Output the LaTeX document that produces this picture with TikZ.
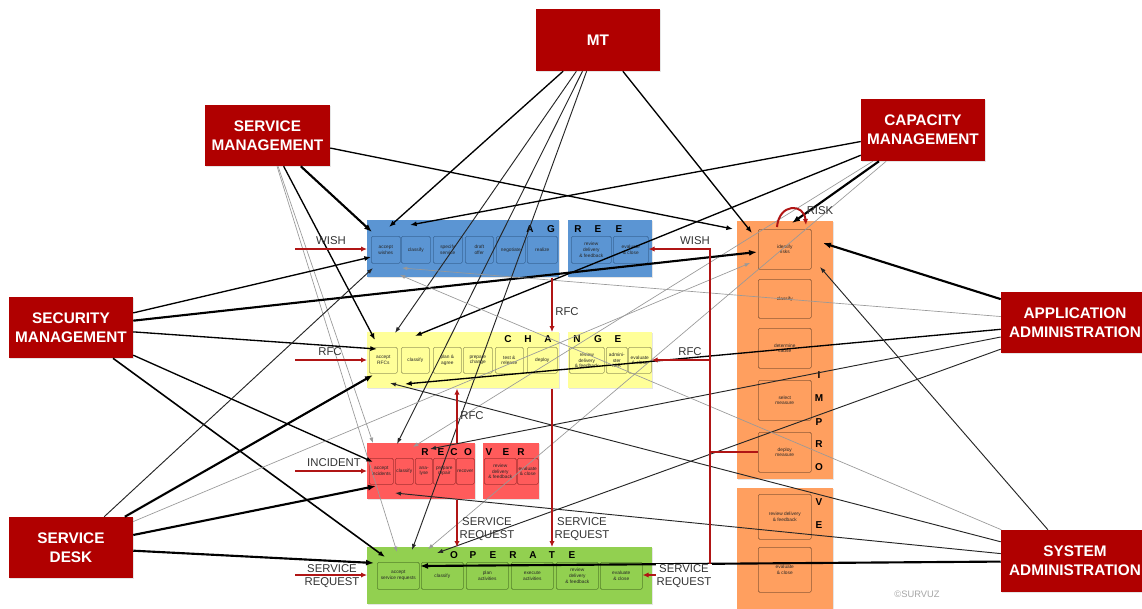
\documentclass[tikz,border=0pt]{standalone}
\usepackage{fontspec}
\setmainfont{Liberation Sans}
\usetikzlibrary{arrows.meta,shadows}
\definecolor{rolered}{HTML}{B00000}
\definecolor{arrred}{HTML}{B01515}
\definecolor{agreeC}{HTML}{5B95D3}
\definecolor{agreeB}{HTML}{3A679A}
\definecolor{changeC}{HTML}{FFFF99}
\definecolor{changeB}{HTML}{9C9C5C}
\definecolor{recoverC}{HTML}{FF5B5B}
\definecolor{recoverB}{HTML}{A83232}
\definecolor{operateC}{HTML}{92D050}
\definecolor{operateB}{HTML}{55812A}
\definecolor{improveC}{HTML}{FF9F5F}
\definecolor{improveB}{HTML}{8F5A36}
\definecolor{lbl}{HTML}{333333}
\newcommand\mkbox[6]{\node[#1,anchor=north west,minimum width=#4*0.75pt,minimum height=#5*0.75pt] (#6) at (#2,#3) {};}
\newcommand\mksub[7]{\node[#1,anchor=north west,minimum width=#4*0.75pt,minimum height=#5*0.75pt] (#6) at (#2,#3) {#7};}
\begin{document}
\begin{tikzpicture}[x=0.75pt,y=-0.75pt,
  role/.style={fill=rolered,text=white,font=\fontsize{11.5}{14.5}\selectfont\bfseries,align=center,inner sep=0pt,drop shadow={opacity=0.2,shadow xshift=0.8pt,shadow yshift=-0.8pt}},
  pbox/.style={inner sep=0pt,drop shadow={opacity=0.2,shadow xshift=0.8pt,shadow yshift=-0.8pt}},
  sub/.style={line width=0.45pt,rounded corners=1pt,inner sep=0pt,align=center,font=\fontsize{3.6}{4.3}\selectfont,text=black!85},
  sA/.style={sub,fill=agreeC,draw=agreeB},
  sC/.style={sub,fill=changeC,draw=changeB},
  sR/.style={sub,fill=recoverC,draw=recoverB},
  sO/.style={sub,fill=operateC,draw=operateB},
  sI/.style={sub,fill=improveC,draw=improveB},
  ttl/.style={font=\fontsize{7.5}{8}\selectfont\bfseries,inner sep=0pt},
  lab/.style={font=\fontsize{8.5}{10}\selectfont,text=lbl,align=center,inner sep=0.5pt},
  rline/.style={draw=arrred,line width=1.5pt},
  rarr/.style={rline,-{Latex[length=4.5pt,width=4pt]}},
  cthick/.style={draw=black,line width=1.6pt,-{Latex[length=6pt,width=4.5pt]}},
  cmed/.style={draw=black,line width=1pt,-{Latex[length=5pt,width=3.8pt]}},
  cthin/.style={draw=black!85,line width=0.7pt,-{Latex[length=4.5pt,width=3.2pt]}},
  cgrey/.style={draw=black!40,line width=0.5pt,-{Latex[length=4pt,width=3pt]}}]
\clip (0,0) rectangle (1142,608);
\fill[white] (0,0) rectangle (1142,608);

% ---------- process boxes ----------
\mkbox{pbox,fill=agreeC}{367}{220}{192}{57}{agL}
\mkbox{pbox,fill=agreeC}{568}{220}{84}{57}{agR}
\mkbox{pbox,fill=changeC}{367}{332}{192}{56}{chL}
\mkbox{pbox,fill=changeC}{568}{332}{84}{56}{chR}
\mkbox{pbox,fill=recoverC}{367}{443}{108}{56}{rcL}
\mkbox{pbox,fill=recoverC}{483}{443}{56}{56}{rcR}
\mkbox{pbox,fill=operateC}{367}{547}{285}{57}{op}
\mkbox{pbox,fill=improveC}{737}{221}{96}{258}{imA}
\mkbox{pbox,fill=improveC}{737}{488}{96}{125}{imB}

% AGREE
\mksub{sA}{371}{236}{29}{27}{ag1}{accept\\wishes}
\mksub{sA}{401}{236}{29}{27}{ag2}{classify}
\mksub{sA}{433}{236}{29}{27}{ag3}{specify\\service}
\mksub{sA}{465}{236}{28}{27}{ag4}{draft\\offer}
\mksub{sA}{496}{236}{29}{27}{ag5}{negotiate}
\mksub{sA}{527}{236}{30}{27}{ag6}{realize}
\mksub{sA}{571}{236}{40}{27}{ag7}{review\\delivery\\\& feedback}
\mksub{sA}{613}{236}{35}{27}{agEval}{evaluate\\\& close}
% CHANGE
\mksub{sC}{369}{347}{28}{26}{ch1}{accept\\RFCs}
\mksub{sC}{401}{347}{28}{26}{ch2}{classify}
\mksub{sC}{433}{347}{28}{26}{ch3}{plan \&\\agree}
\mksub{sC}{463}{347}{29}{26}{ch4}{prepare\\change}
\mksub{sC}{495}{347}{28}{26}{ch5}{test \&\\release}
\mksub{sC}{527}{347}{30}{26}{ch6}{deploy}
\mksub{sC}{569}{347}{35}{26}{ch7}{review\\delivery\\\& feedback}
\mksub{sC}{606}{347}{21}{26}{ch8}{admini-\\ster\\MIR}
\mksub{sC}{628}{347}{23}{26}{chEval}{evaluate\\\& close}
% RECOVER
\mksub{sR}{369}{458}{24}{26}{rc1}{accept\\incidents}
\mksub{sR}{395}{458}{18}{26}{rc2}{classify}
\mksub{sR}{415}{458}{17}{26}{rc3}{ana-\\lyse}
\mksub{sR}{433}{458}{22}{26}{rc4}{prepare\\repair}
\mksub{sR}{456}{458}{18}{26}{rc5}{recover}
\mksub{sR}{484}{458}{32}{26}{rc6}{review\\delivery\\\& feedback}
\mksub{sR}{517}{458}{21}{26}{rc7}{evaluate\\\& close}
% OPERATE
\mksub{sO}{377}{562}{42}{27}{op1}{accept\\service requests}
\mksub{sO}{421}{562}{42}{27}{op2}{classify}
\mksub{sO}{466}{562}{42}{27}{op3}{plan\\activities}
\mksub{sO}{511}{562}{42}{27}{op4}{execute\\activities}
\mksub{sO}{556}{562}{42}{27}{op5}{review\\delivery\\\& feedback}
\mksub{sO}{600}{562}{42}{27}{opEval}{evaluate\\\& close}
% IMPROVE
\mksub{sI}{758}{229}{53}{40}{im1}{identify\\risks}
\mksub{sI}{758}{279}{53}{39}{im2}{classify}
\mksub{sI}{758}{328}{53}{40}{im3}{determine\\cause}
\mksub{sI}{758}{380}{53}{40}{im4}{select\\measure}
\mksub{sI}{758}{432}{53}{40}{imDep}{deploy\\measure}
\mksub{sI}{758}{494}{53}{45}{im6}{review delivery\\\& feedback}
\mksub{sI}{758}{547}{53}{45}{im7}{evaluate\\\& close}

% titles
\foreach \ch/\xx [count=\i] in {A/530,G/551,R/578,E/598,E/619} \node[ttl] (ttA\i) at (\xx,229) {\ch};
\foreach \ch/\xx [count=\i] in {C/508,H/528,A/548,N/577,G/598,E/618} \node[ttl] (ttC\i) at (\xx,339) {\ch};
\foreach \ch/\xx [count=\i] in {R/425,E/441,C/454,O/468,V/489,E/506,R/521} \node[ttl] (ttR\i) at (\xx,452) {\ch};
\foreach \ch/\xx [count=\i] in {O/454,P/473,E/493,R/513,A/533,T/552,E/572} \node[ttl] (ttO\i) at (\xx,555) {\ch};
\foreach \ch/\yy [count=\i] in {I/375,M/398,P/422,R/444,O/467,V/502,E/525} \node[ttl] (ttI\i) at (819,\yy) {\ch};

% ---------- role boxes ----------
\node[role,minimum width=124*0.75pt,minimum height=62*0.75pt] (mt) at (598,40) {MT};
\node[role,minimum width=125*0.75pt,minimum height=61*0.75pt] (sm) at (267.5,135.5) {SERVICE\\MANAGEMENT};
\node[role,minimum width=124*0.75pt,minimum height=62*0.75pt] (cm) at (923,130) {CAPACITY\\MANAGEMENT};
\node[role,minimum width=124*0.75pt,minimum height=61*0.75pt] (secm) at (71,327.5) {SECURITY\\MANAGEMENT};
\node[role,minimum width=124*0.75pt,minimum height=61*0.75pt] (sd) at (71,547.5) {SERVICE\\DESK};
\node[role,minimum width=148*0.75pt,minimum height=61*0.75pt] (aa) at (1075,322.5) {APPLICATION\\ADMINISTRATION};
\node[role,minimum width=148*0.75pt,minimum height=62*0.75pt] (sa) at (1075,561) {SYSTEM\\ADMINISTRATION};

% ---------- target points ----------
\coordinate (tA1) at (389,227); \coordinate (tA2) at (372,232); \coordinate (tA3) at (410,225);
\coordinate (tA4) at (371,257); \coordinate (tA5) at (373,268); \coordinate (tA6) at (402,268);
\coordinate (tA7) at (400,275);
\coordinate (tC1) at (395,333); \coordinate (tC2) at (375,340); \coordinate (tC3) at (415,336);
\coordinate (tC4) at (377,349); \coordinate (tC5) at (373,375); \coordinate (tC6) at (405,384);
\coordinate (tC7) at (390,383);
\coordinate (tR1) at (397,444); \coordinate (tR2) at (373,443); \coordinate (tR3) at (413,447);
\coordinate (tR4) at (373,462); \coordinate (tR5) at (376,486); \coordinate (tR6) at (430,449);
\coordinate (tR7) at (395,493);
\coordinate (tO1) at (412,550); \coordinate (tO2) at (397,552); \coordinate (tO3) at (428,549);
\coordinate (tO4) at (385,557); \coordinate (tO5) at (374,563); \coordinate (tO6) at (437,553);
\coordinate (tO7) at (420,566);
\coordinate (tI1) at (752,233); \coordinate (tI2) at (733,229); \coordinate (tI3) at (792,223);
\coordinate (tI4) at (757,252); \coordinate (tI5) at (750,263); \coordinate (tI6) at (823,243);
\coordinate (tI7) at (820,267);

% ---------- black connectors ----------
\draw[cmed] (mt) -- (tA1);
\draw[cthin] (mt) -- (tC1);
\draw[cthin] (mt) -- (tR1);
\draw[cthin] (mt) -- (tO1);
\draw[cmed] (mt) -- (tI1);

\draw[cthick] (sm) -- (tA2);
\draw[cmed] (sm) -- (tC2);
\draw[cgrey] (sm) -- (tR2);
\draw[cgrey] (sm) -- (tO2);
\draw[cmed] (sm) -- (tI2);

\draw[cmed] (cm) -- (tA3);
\draw[cmed] (cm) -- (tC3);
\draw[cgrey] (cm) -- (tR3);
\draw[cgrey] (cm) -- (tO3);
\draw[cthick] (cm) -- (tI3);

\draw[cmed] (secm) -- (tA4);
\draw[cmed] (secm) -- (tC4);
\draw[cmed] (secm) -- (tR4);
\draw[cmed,line width=1.2pt] (secm) -- (tO4);
\draw[cthick] (secm) -- (tI4);

\draw[cthin] (sd) -- (tA5);
\draw[cthick] (sd) -- (tC5);
\draw[cthick] (sd) -- (tR5);
\draw[cthick] (sd) -- (tO5);
\draw[cgrey] (sd) -- (tI5);

\draw[cgrey] (aa) -- (tA6);
\draw[cmed] (aa) -- (tC6);
\draw[cthin] (aa) -- (tR6);
\draw[cthin] (aa) -- (tO6);
\draw[cthick] (aa) -- (tI6);

\draw[cgrey] (sa) -- (tA7);
\draw[cthin] (sa) -- (tC7);
\draw[cthin] (sa) -- (tR7);
\draw[cthick] (sa) -- (tO7);
\draw[cthin] (sa) -- (tI7);

% ---------- red flows ----------
\coordinate (xA) at (552,0);
\coordinate (xB) at (457,0);
\draw[rarr] (agL.south -| xA) -- (chL.north -| xA);
\draw[rarr] (chL.south -| xA) -- (op.north -| xA);
\draw[rarr] (rcL.north -| xB) -- (chL.south -| xB);
\draw[rarr] (rcL.south -| xB) -- (op.north -| xB);

\coordinate (inW) at (295,249);
\coordinate (inR) at (295,360);
\coordinate (inI) at (295,471);
\coordinate (inS) at (295,575);
\draw[rarr] (inW) -- (inW -| agL.west);
\draw[rarr] (inR) -- (inR -| chL.west);
\draw[rarr] (inI) -- (inI -| rcL.west);
\draw[rarr] (inS) -- (inS -| op.west);

\coordinate (bT) at (710,249);
\coordinate (bR) at (710,360);
\coordinate (bD) at (710,452);
\coordinate (bB) at (710,575);
\draw[rline,line cap=rect] (bT) -- (bB);
\draw[rline] (bD) -- (bD -| imDep.west);
\draw[rarr] (bT) -- (bT -| agEval.east);
\draw[rarr] (bR) -- (bR -| chEval.east);
\draw[rarr] (bB) -- (bB -| opEval.east);

\coordinate (rk1) at (777,227);
\coordinate (rk2) at (806,225);
\draw[rarr] (rk1) .. controls (779,203) and (804,203) .. (rk2);

% ---------- labels ----------
\node[lab] (lW) at (331,241) {WISH};
\node[lab] (lR) at (330,352) {RFC};
\node[lab] (lI) at (334,463) {INCIDENT};
\node[lab] (lS) at (332,576) {SERVICE\\REQUEST};
\node[lab] (lW2) at (695,241) {WISH};
\node[lab] (lR2) at (690,352) {RFC};
\node[lab,fill=white] (lS2) at (684,576) {SERVICE\\REQUEST};
\node[lab] (lR3) at (567,312) {RFC};
\node[lab] (lR4) at (472,416) {RFC};
\node[lab] (lS3) at (487,529) {SERVICE\\REQUEST};
\node[lab] (lS4) at (582,529) {SERVICE\\REQUEST};
\node[lab] (lRisk) at (820,211) {RISK};
\node[font=\fontsize{7}{8}\selectfont,text=black!35,inner sep=0pt] (copy) at (917,594) {©SURVUZ};
\end{tikzpicture}
\end{document}
